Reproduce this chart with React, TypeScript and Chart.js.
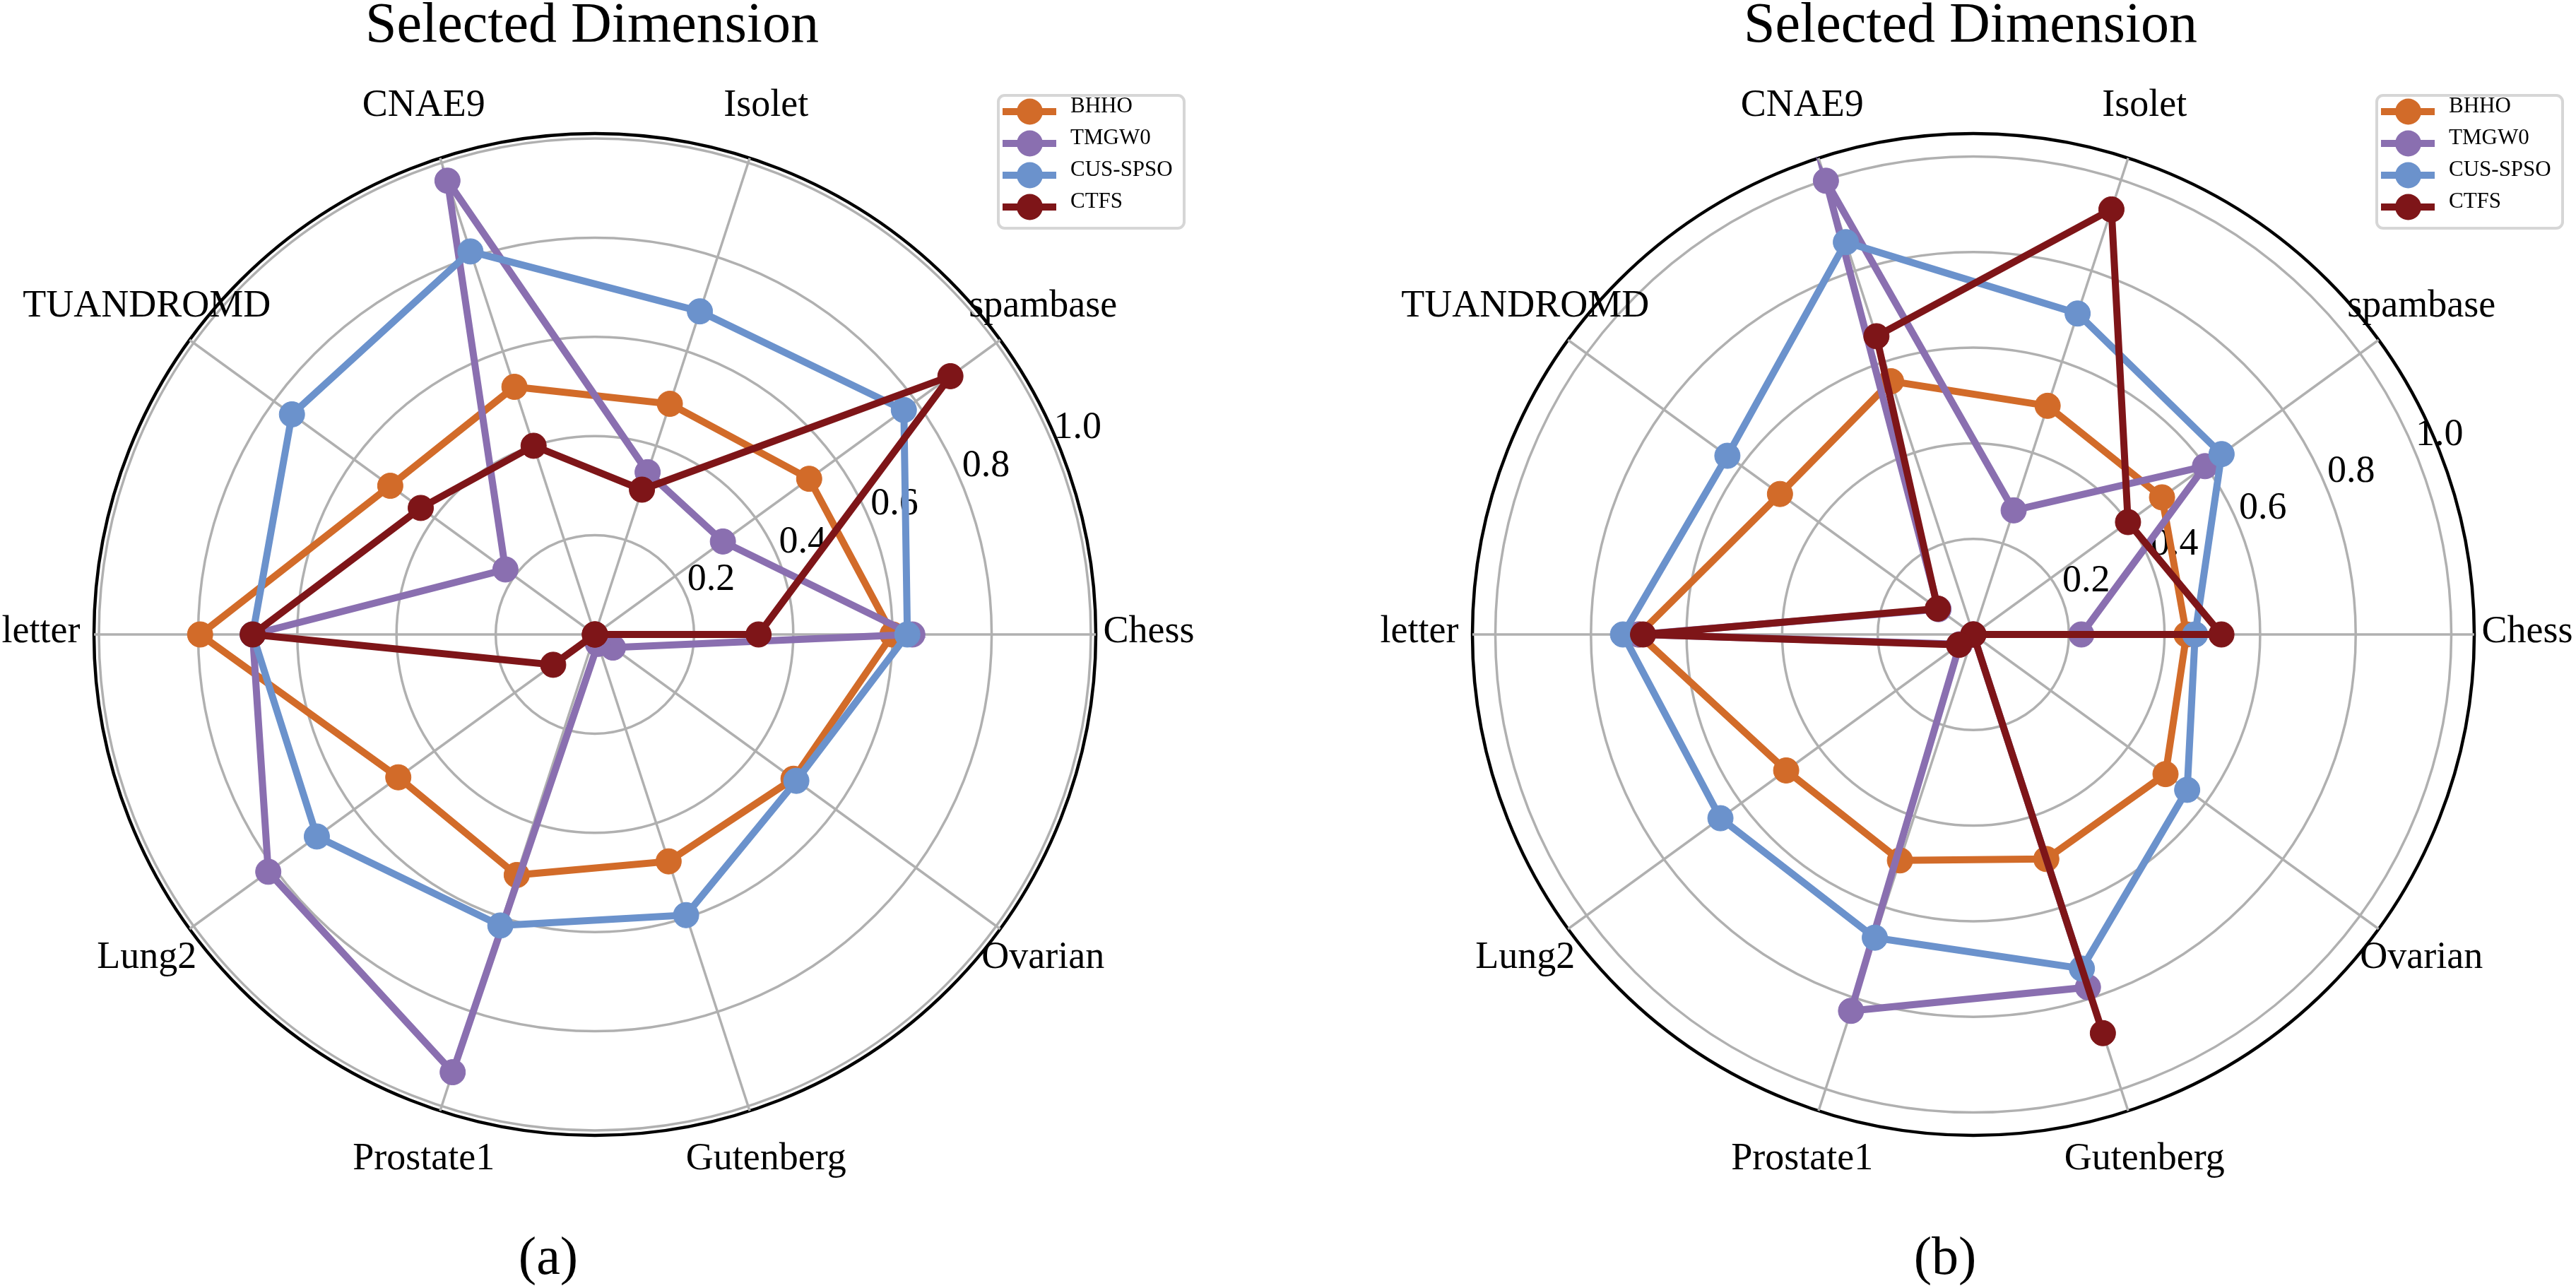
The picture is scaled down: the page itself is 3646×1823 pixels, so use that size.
import React, { useEffect, useRef } from 'react';
import { Chart, registerables } from 'chart.js';

Chart.register(...registerables);

// Categories in the picture's counter-clockwise order, starting at 3 o'clock
const categories = ['Chess', 'spambase', 'Isolet', 'CNAE9', 'TUANDROMD', 'letter', 'Lung2', 'Prostate1', 'Gutenberg', 'Ovarian'];

const seriesNames = ['BHHO', 'TMGW0', 'CUS-SPSO', 'CTFS'];
const seriesColors = ['#D26B29', '#8A6FB0', '#6B92CC', '#7E1518'];

// Panel (a)
const bhhoA = [0.60, 0.534, 0.489, 0.525, 0.51, 0.796, 0.49, 0.51, 0.481, 0.495];
const tmgw0A = [0.64, 0.319, 0.344, 0.962, 0.223, 0.69, 0.814, 0.928, 0.02, 0.045];
const cusSpsoA = [0.63, 0.77, 0.685, 0.812, 0.755, 0.69, 0.693, 0.617, 0.595, 0.502];
const ctfsA = [0.33, 0.886, 0.307, 0.40, 0.434, 0.69, 0.104, 0, 0, 0];

// Panel (b)
const bhhoB = [0.446, 0.488, 0.503, 0.557, 0.50, 0.70, 0.484, 0.497, 0.494, 0.497];
const tmgw0B = [0.226, 0.599, 0.273, 0.998, 0.09, 0.70, 0.035, 0.828, 0.776, 0];
const cusSpsoB = [0.464, 0.642, 0.706, 0.863, 0.636, 0.733, 0.654, 0.667, 0.735, 0.553];
const ctfsB = [0.519, 0.40, 0.935, 0.656, 0.092, 0.691, 0.037, 0, 0.877, 0];

const tickValues = [0.2, 0.4, 0.6, 0.8, 1.0];
const tickLabels = ['0.2', '0.4', '0.6', '0.8', '1.0'];
const titleText = 'Selected Dimension';

const SERIF = "'Liberation Serif', 'Times New Roman', Times, serif";
const W = 1823;
const H = 1823;

// Chart.js walks clockwise; picture walks counter-clockwise from Chess
const cwOrder = [0, 9, 8, 7, 6, 5, 4, 3, 2, 1];

type PanelProps = {
  left: number;
  centerX: number;
  centerY: number;
  radius: number;
  rMax: number;
  values: number[][];
  caption: string;
  captionX: number;
};

function RadarPanel(p: PanelProps) {
  const ref = useRef<HTMLCanvasElement | null>(null);
  useEffect(() => {
    const canvas = ref.current;
    if (!canvas) return;

    const decor = {
      id: 'decor',
      beforeDatasetsDraw(chart: any) {
        const r = chart.scales.r;
        const ctx = chart.ctx;
        ctx.save();
        ctx.font = `54px ${SERIF}`;
        ctx.fillStyle = '#000';
        ctx.textAlign = 'left';
        ctx.textBaseline = 'alphabetic';
        const a = (22.5 * Math.PI) / 180;
        tickValues.forEach((v, i) => {
          const d = r.getDistanceFromCenterForValue(v);
          ctx.fillText(tickLabels[i], r.xCenter + d * Math.cos(a) + 1, r.yCenter - d * Math.sin(a) - 9);
        });
        ctx.restore();
      },
      afterDraw(chart: any) {
        const r = chart.scales.r;
        const ctx = chart.ctx;
        const cx = r.xCenter;
        const cy = r.yCenter;
        ctx.save();
        // title
        ctx.fillStyle = '#000';
        ctx.font = `80px ${SERIF}`;
        ctx.textAlign = 'center';
        ctx.textBaseline = 'alphabetic';
        ctx.fillText(titleText, cx - 4, 59);
        // category labels
        ctx.font = `54px ${SERIF}`;
        ctx.textBaseline = 'middle';
        categories.forEach((c, i) => {
          const th = (i * 36 * Math.PI) / 180;
          ctx.fillText(c, cx + 784 * Math.cos(th), cy - 784 * Math.sin(th) - 3);
        });
        // caption
        ctx.font = `76px ${SERIF}`;
        ctx.textBaseline = 'alphabetic';
        ctx.fillText(p.caption, p.captionX, 1803);
        // legend
        const bx = cx + 571;
        const by = 135;
        ctx.beginPath();
        (ctx as any).roundRect(bx, by, 263, 188, 9);
        ctx.fillStyle = '#fff';
        ctx.fill();
        ctx.lineWidth = 4;
        ctx.strokeStyle = '#d6d6d6';
        ctx.stroke();
        ctx.font = `31px ${SERIF}`;
        ctx.textAlign = 'left';
        seriesNames.forEach((n, k) => {
          const y = by + 23 + k * 45;
          ctx.strokeStyle = seriesColors[k];
          ctx.lineWidth = 10;
          ctx.beginPath();
          ctx.moveTo(bx + 6, y);
          ctx.lineTo(bx + 82, y);
          ctx.stroke();
          ctx.fillStyle = seriesColors[k];
          ctx.beginPath();
          ctx.arc(bx + 44.5, y, 18.5, 0, Math.PI * 2);
          ctx.fill();
          ctx.fillStyle = '#000';
          ctx.fillText(n, bx + 102, y + 1);
        });
        ctx.restore();
      },
    };

    const padLeft = p.centerX - p.radius;
    const padTop = p.centerY - p.radius;
    const chart = new Chart(canvas, {
      type: 'radar',
      data: {
        labels: cwOrder.map((i) => categories[i]),
        datasets: p.values.map((vals, k) => ({
          label: seriesNames[k],
          data: cwOrder.map((i) => vals[i]),
          borderColor: seriesColors[k],
          backgroundColor: seriesColors[k],
          pointBackgroundColor: seriesColors[k],
          pointBorderColor: seriesColors[k],
          pointRadius: 18,
          pointBorderWidth: 1,
          borderWidth: 10,
          fill: false,
          tension: 0,
          order: p.values.length - k,
        })),
      },
      options: {
        responsive: false,
        animation: false,
        devicePixelRatio: 1,
        layout: {
          padding: {
            left: padLeft,
            top: padTop,
            right: W - padLeft - 2 * p.radius,
            bottom: H - padTop - 2 * p.radius,
          },
        },
        plugins: {
          legend: { display: false },
          title: { display: false },
          tooltip: { enabled: false },
        },
        scales: {
          r: {
            min: 0,
            max: p.rMax,
            startAngle: 90,
            afterBuildTicks: (scale: any) => {
              scale.ticks = [0, ...tickValues, p.rMax].map((v) => ({ value: v }));
            },
            ticks: { display: false },
            pointLabels: { display: false },
            grid: {
              circular: true,
              color: (c: any) => (c.tick && c.tick.value > 1.001 ? '#000' : '#b0b0b0'),
              lineWidth: (c: any) => (c.tick && c.tick.value > 1.001 ? 4.5 : 3.5),
            },
            angleLines: { display: true, color: '#b0b0b0', lineWidth: 3.5 },
          },
        },
      } as any,
      plugins: [decor],
    });
    return () => chart.destroy();
  }, []);

  return (
    <canvas
      ref={ref}
      width={W}
      height={H}
      style={{ position: 'absolute', left: p.left, top: 0, width: W, height: H }}
    />
  );
}

export default function App() {
  return (
    <div style={{ position: 'absolute', left: 0, top: 0, width: 3646, height: 1823, background: '#fff', overflow: 'hidden' }}>
      <RadarPanel
        left={0}
        centerX={842}
        centerY={898}
        radius={709}
        rMax={1.01}
        values={[bhhoA, tmgw0A, cusSpsoA, ctfsA]}
        caption="(a)"
        captionX={776}
      />
      <RadarPanel
        left={1823}
        centerX={970}
        centerY={898}
        radius={709}
        rMax={1.048}
        values={[bhhoB, tmgw0B, cusSpsoB, ctfsB]}
        caption="(b)"
        captionX={930}
      />
    </div>
  );
}
